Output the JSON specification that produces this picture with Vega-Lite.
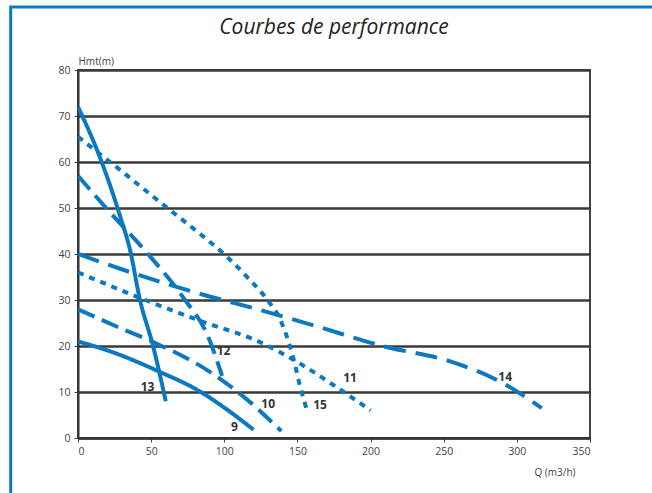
{
  "$schema": "https://vega.github.io/schema/vega-lite/v6.json",
  "autosize": "none",
  "width": 512,
  "height": 368,
  "padding": {"left": 78, "top": 70, "right": 62, "bottom": 55},
  "background": "white",
  "title": {
    "text": "Courbes de performance",
    "font": "Open Sans",
    "fontSize": 21,
    "fontStyle": "italic",
    "fontWeight": "normal",
    "color": "#222222",
    "anchor": "middle",
    "frame": "group",
    "baseline": "alphabetic",
    "offset": 0,
    "dy": 50
  },
  "datasets": {
    "curves": [
      {"curve": "9", "style": "solid", "Q": 0, "H": 21},
      {"curve": "9", "style": "solid", "Q": 25, "H": 18.5},
      {"curve": "9", "style": "solid", "Q": 55, "H": 14.5},
      {"curve": "9", "style": "solid", "Q": 84, "H": 10},
      {"curve": "9", "style": "solid", "Q": 100, "H": 6.6},
      {"curve": "9", "style": "solid", "Q": 120, "H": 1.8},
      {"curve": "10", "style": "dash", "Q": 0, "H": 28},
      {"curve": "10", "style": "dash", "Q": 31, "H": 23.6},
      {"curve": "10", "style": "dash", "Q": 49, "H": 21.2},
      {"curve": "10", "style": "dash", "Q": 92, "H": 14},
      {"curve": "10", "style": "dash", "Q": 115, "H": 8.5},
      {"curve": "10", "style": "dash", "Q": 139, "H": 1.5},
      {"curve": "11", "style": "dot", "Q": 0, "H": 36},
      {"curve": "11", "style": "dot", "Q": 50, "H": 29.5},
      {"curve": "11", "style": "dot", "Q": 85, "H": 25.3},
      {"curve": "11", "style": "dot", "Q": 124, "H": 20.9},
      {"curve": "11", "style": "dot", "Q": 150, "H": 16.5},
      {"curve": "11", "style": "dot", "Q": 177, "H": 11},
      {"curve": "11", "style": "dot", "Q": 200, "H": 6},
      {"curve": "12", "style": "dash", "Q": 0, "H": 57},
      {"curve": "12", "style": "dash", "Q": 22, "H": 49},
      {"curve": "12", "style": "dash", "Q": 47, "H": 40.3},
      {"curve": "12", "style": "dash", "Q": 72, "H": 30.5},
      {"curve": "12", "style": "dash", "Q": 89, "H": 22},
      {"curve": "12", "style": "dash", "Q": 98.5, "H": 13.5},
      {"curve": "13", "style": "solid", "Q": 0, "H": 72},
      {"curve": "13", "style": "solid", "Q": 15, "H": 61},
      {"curve": "13", "style": "solid", "Q": 29, "H": 48},
      {"curve": "13", "style": "solid", "Q": 35.5, "H": 41},
      {"curve": "13", "style": "solid", "Q": 42.4, "H": 30},
      {"curve": "13", "style": "solid", "Q": 51.3, "H": 20},
      {"curve": "13", "style": "solid", "Q": 60, "H": 8},
      {"curve": "14", "style": "longdash", "Q": 0, "H": 40},
      {"curve": "14", "style": "longdash", "Q": 40, "H": 35.6},
      {"curve": "14", "style": "longdash", "Q": 85, "H": 31.2},
      {"curve": "14", "style": "longdash", "Q": 118, "H": 28.4},
      {"curve": "14", "style": "longdash", "Q": 163, "H": 24.3},
      {"curve": "14", "style": "longdash", "Q": 208, "H": 20},
      {"curve": "14", "style": "longdash", "Q": 254, "H": 16.7},
      {"curve": "14", "style": "longdash", "Q": 290, "H": 12},
      {"curve": "14", "style": "longdash", "Q": 317, "H": 6.5},
      {"curve": "15", "style": "dot", "Q": 0, "H": 65.5},
      {"curve": "15", "style": "dot", "Q": 31, "H": 57.7},
      {"curve": "15", "style": "dot", "Q": 59.5, "H": 50.4},
      {"curve": "15", "style": "dot", "Q": 81, "H": 45},
      {"curve": "15", "style": "dot", "Q": 101.5, "H": 39.5},
      {"curve": "15", "style": "dot", "Q": 115, "H": 35.2},
      {"curve": "15", "style": "dot", "Q": 129, "H": 30.2},
      {"curve": "15", "style": "dot", "Q": 138, "H": 25.9},
      {"curve": "15", "style": "dot", "Q": 147, "H": 17.6},
      {"curve": "15", "style": "dot", "Q": 152, "H": 11},
      {"curve": "15", "style": "dot", "Q": 157, "H": 5.5}
    ],
    "labels": [
      {"label": "9", "Q": 107, "H": 2.3},
      {"label": "10", "Q": 130, "H": 7.5},
      {"label": "11", "Q": 186, "H": 13},
      {"label": "12", "Q": 99.5, "H": 19},
      {"label": "13", "Q": 47.5, "H": 11},
      {"label": "14", "Q": 292, "H": 13.2},
      {"label": "15", "Q": 165.5, "H": 7.2}
    ]
  },
  "config": {
    "view": {"stroke": "#444444", "strokeWidth": 2},
    "axis": {
      "labelFont": "Open Sans",
      "labelFontSize": 10.5,
      "labelColor": "#444444",
      "titleFont": "Open Sans",
      "titleFontSize": 10,
      "titleFontWeight": "normal",
      "titleColor": "#444444",
      "domainColor": "#333333",
      "domainWidth": 2,
      "tickColor": "#444444",
      "tickSize": 4,
      "tickWidth": 1
    }
  },
  "layer": [
    {
      "data": {"name": "curves"},
      "mark": {"type": "line", "interpolate": "monotone", "strokeWidth": 4, "strokeCap": "butt", "color": "#0b78c0", "clip": true},
      "encoding": {
        "x": {
          "field": "Q", "type": "quantitative",
          "scale": {"domain": [0, 350], "nice": false},
          "axis": {
            "values": [0, 50, 100, 150, 200, 250, 300, 350],
            "grid": false,
            "title": "Q (m3/h)",
            "titleAlign": "right",
            "titleAnchor": null,
            "titleX": 497,
            "titleY": 34,
            "titleBaseline": "middle",
            "labelPadding": 4
          }
        },
        "y": {
          "field": "H", "type": "quantitative",
          "scale": {"domain": [0, 80], "nice": false},
          "axis": {
            "values": [0, 10, 20, 30, 40, 50, 60, 70, 80],
            "grid": true,
            "gridColor": "#3a3a3a",
            "gridWidth": 2.5,
            "title": "Hmt(m)",
            "titleAngle": 0,
            "titleAlign": "left",
            "titleAnchor": null,
            "titleX": 0,
            "titleY": -9,
            "titleBaseline": "middle",
            "labelPadding": 4
          }
        },
        "detail": {"field": "curve"},
        "strokeDash": {
          "field": "style", "type": "nominal",
          "scale": {
            "domain": ["solid", "dash", "longdash", "dot"],
            "range": [[1, 0], [18, 8], [22, 10], [6, 6]]
          },
          "legend": null
        }
      }
    },
    {
      "data": {"name": "labels"},
      "mark": {"type": "text", "font": "Open Sans", "fontSize": 12, "fontWeight": "bold", "color": "#333333", "align": "center", "baseline": "middle"},
      "encoding": {
        "x": {"field": "Q", "type": "quantitative"},
        "y": {"field": "H", "type": "quantitative"},
        "text": {"field": "label"}
      }
    },
    {
      "data": {"values": [{}]},
      "mark": {"type": "rect", "fill": null, "filled": false, "stroke": "#0b78c0", "strokeWidth": 3, "clip": false},
      "encoding": {
        "x": {"datum": -46},
        "x2": {"datum": 420},
        "y": {"datum": 93.7},
        "y2": {"datum": -20}
      }
    }
  ]
}
